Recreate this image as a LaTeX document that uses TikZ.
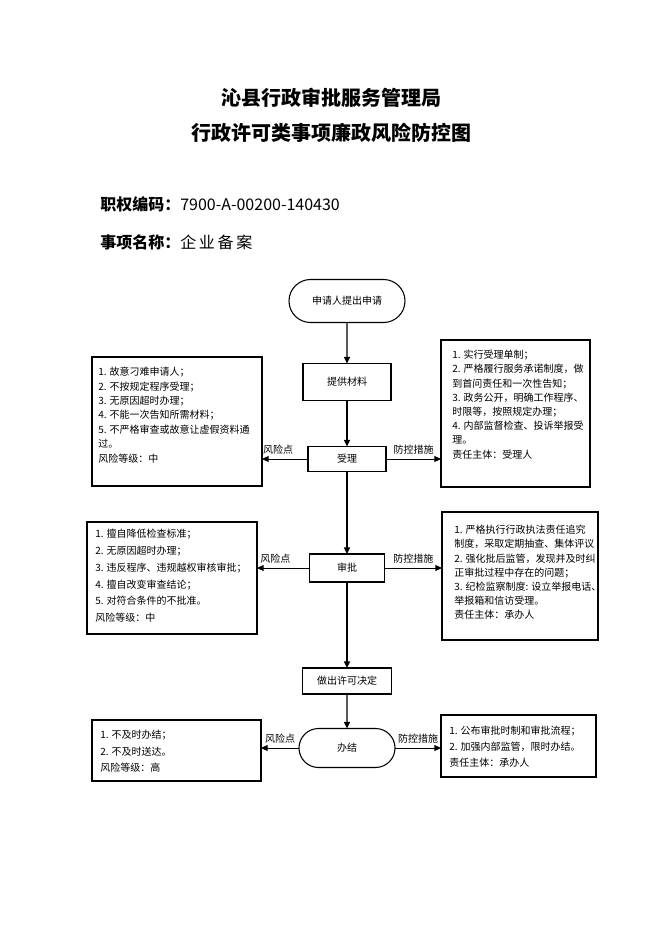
\documentclass[tikz,border=0pt]{standalone}
\usepackage{fontspec}
\setmainfont{Noto Sans CJK SC}
\usetikzlibrary{shapes.misc,arrows.meta,positioning}

\begin{document}
\begin{tikzpicture}[
    x=0.75pt, y=-0.75pt,
    flow/.style={draw, line width=0.8pt, inner sep=0pt, outer sep=0pt, font=\fontsize{7.5}{9}\selectfont},
    terminal/.style={flow, rounded rectangle},
    infobox/.style={draw, line width=0.8pt, inner sep=0pt, outer sep=0pt, anchor=north west},
    infotext/.style={anchor=north west, inner sep=0pt, align=left},
    down/.style={line width=1.1pt, -{Triangle[length=5pt,width=4.5pt]}},
    side/.style={line width=0.7pt, -{Triangle[length=5pt,width=4.5pt]}},
    tag/.style={above=3pt, inner sep=0pt, font=\fontsize{7.5}{9}\selectfont},
]

\useasboundingbox (0,0) rectangle (662,936);

% === Title ===
\node[font=\fontsize{15}{18}\selectfont\bfseries] (title1) at (331,98) {沁县行政审批服务管理局};
\node[font=\fontsize{15}{18}\selectfont\bfseries] (title2) at (331,133) {行政许可类事项廉政风险防控图};

% === Header ===
\node[anchor=west, inner sep=0pt, font=\fontsize{12}{14}\selectfont] (code) at (100,204)
    {{\bfseries 职权编码：}7900-A-00200-140430};
\node[anchor=west, inner sep=0pt, font=\fontsize{12}{14}\selectfont] (item) at (100,242)
    {{\bfseries 事项名称：}企\,业\,备\,案};

% === Main flow ===
\node[terminal, minimum width=87pt, minimum height=32.25pt] (start) at (347,301) {申请人提出申请};
\node[flow, minimum width=66pt, minimum height=27.75pt] (cailiao) at (347,382) {提供材料};
\node[flow, minimum width=58.5pt, minimum height=18.75pt] (shouli) at (347,459) {受理};
\node[flow, minimum width=56.25pt, minimum height=21pt] (shenpi) at (347,568) {审批};
\node[flow, minimum width=66.75pt, minimum height=19.5pt] (jueding) at (347,681) {做出许可决定};
\node[terminal, minimum width=72pt, minimum height=29.25pt] (banjie) at (347,748) {办结};

\draw[down] (start) -- (cailiao);
\draw[down] (cailiao) -- (shouli);
\draw[down] (shouli) -- (shenpi);
\draw[down] (shenpi) -- (jueding);
\draw[down] (jueding) -- (banjie);

% === Step 1: 受理 ===
\node[infobox, minimum width=127.5pt, minimum height=96.75pt] (risk1) at (92,357) {};
\node[infotext, font=\fontsize{7.5}{10.8}\selectfont] (risk1t) at (98,367)
    {1. 故意刁难申请人；\\
     2. 不按规定程序受理；\\
     3. 无原因超时办理；\\
     4. 不能一次告知所需材料；\\
     5. 不严格审查或故意让虚假资料通\\
     过。\\
     风险等级：中};
\node[infobox, minimum width=111.75pt, minimum height=110.25pt] (ctrl1) at (441,340) {};
\node[infotext, font=\fontsize{7.5}{10.65}\selectfont] (ctrl1t) at (452,350)
    {1. 实行受理单制；\\
     2. 严格履行服务承诺制度，做\\
     到首问责任和一次性告知；\\
     3. 政务公开，明确工作程序、\\
     时限等，按照规定办理；\\
     4. 内部监督检查、投诉举报受\\
     理。\\
     责任主体：受理人};
\draw[side] (shouli.west) -- (shouli.west -| risk1.east) node[tag, pos=0.65] {风险点};
\draw[side] (shouli.east) -- (shouli.east -| ctrl1.west) node[tag, midway] {防控措施};

% === Step 2: 审批 ===
\node[infobox, minimum width=127.5pt, minimum height=84pt] (risk2) at (87,522) {};
\node[infotext, font=\fontsize{7.5}{12.6}\selectfont] (risk2t) at (95,529)
    {1. 擅自降低检查标准；\\
     2. 无原因超时办理；\\
     3. 违反程序、违规越权审核审批；\\
     4. 擅自改变审查结论；\\
     5. 对符合条件的不批准。\\
     风险等级：中};
\node[infobox, minimum width=117pt, minimum height=96pt] (ctrl2) at (442,512) {};
\node[infotext, font=\fontsize{7.5}{10.65}\selectfont] (ctrl2t) at (454,525)
    {1. 严格执行行政执法责任追究\\
     制度，采取定期抽查、集体评议\\
     2. 强化批后监管，发现并及时纠\\
     正审批过程中存在的问题；\\
     3. 纪检监察制度: 设立举报电话、\\
     举报箱和信访受理。\\
     责任主体：承办人};
\draw[side] (shenpi.west) -- (shenpi.west -| risk2.east) node[tag, pos=0.65] {风险点};
\draw[side] (shenpi.east) -- (shenpi.east -| ctrl2.west) node[tag, midway] {防控措施};

% === Step 3: 办结 ===
\node[infobox, minimum width=126.75pt, minimum height=45.75pt] (risk3) at (92,720) {};
\node[infotext, font=\fontsize{7.5}{12.3}\selectfont] (risk3t) at (100,730)
    {1. 不及时办结；\\
     2. 不及时送达。\\
     风险等级：高};
\node[infobox, minimum width=116.25pt, minimum height=46.5pt] (ctrl3) at (441,715) {};
\node[infotext, font=\fontsize{7.5}{12}\selectfont] (ctrl3t) at (449,726)
    {1. 公布审批时制和审批流程；\\
     2. 加强内部监管，限时办结。\\
     责任主体：承办人};
\draw[side] (banjie.west) -- (banjie.west -| risk3.east) node[tag, midway] {风险点};
\draw[side] (banjie.east) -- (banjie.east -| ctrl3.west) node[tag, midway] {防控措施};

\end{tikzpicture}
\end{document}
